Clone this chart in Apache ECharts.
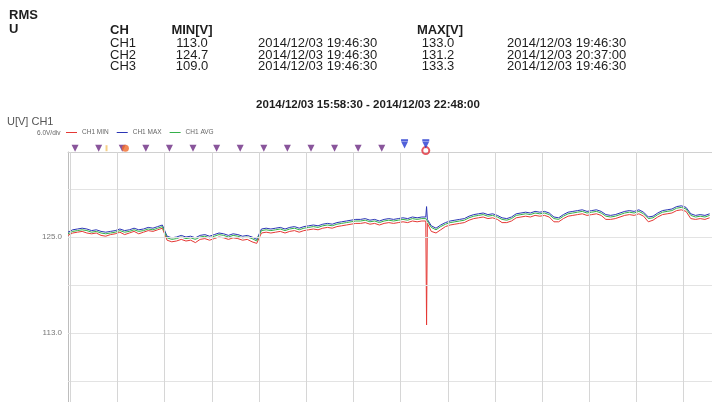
<!DOCTYPE html>
<html>
<head>
<meta charset="utf-8">
<script src="https://cdn.jsdelivr.net/npm/echarts@6/dist/echarts.min.js"></script>
<style>html,body{margin:0;padding:0;background:#fff}#c{width:712px;height:402px}</style>
</head>
<body>
<div id="c"></div>
<script>
// ---- data ----
const channels = ['CH1', 'CH2', 'CH3'];
const minVals = ['113.0', '124.7', '109.0'];
const minTimes = ['2014/12/03 19:46:30', '2014/12/03 19:46:30', '2014/12/03 19:46:30'];
const maxVals = ['133.0', '131.2', '133.3'];
const maxTimes = ['2014/12/03 19:46:30', '2014/12/03 20:37:00', '2014/12/03 19:46:30'];
const rangeText = '2014/12/03 15:58:30 - 2014/12/03 22:48:00';
const axisStart = '2014-12-03 15:58:30';
const axisEnd = '2014-12-03 22:48:00';
const sampleStart = '2014-12-03 15:58:30';
const sampleStepMin = 3;

const avgVals = [
125.4,125.7,125.8,125.9,125.8,125.6,125.7,125.5,125.4,125.5,
125.6,125.8,125.6,125.7,125.9,125.7,125.8,126.0,125.9,126.1,
126.3,124.9,124.7,124.8,125.0,124.8,124.9,124.7,125.0,125.1,
124.9,125.1,125.3,125.2,125.0,125.2,125.1,124.9,125.0,124.8,
124.5,125.8,125.9,125.8,125.9,126.0,125.8,126.0,126.1,125.9,
126.1,126.2,126.3,126.2,126.4,126.5,126.4,126.6,126.7,126.8,
126.9,127.0,127.0,127.1,126.9,127.0,126.8,127.0,127.1,127.0,
127.1,127.2,127.1,127.3,127.2,127.3,127.1,126.2,125.9,126.3,
126.6,126.8,126.9,127.0,127.1,127.4,127.6,127.7,127.8,127.6,
127.7,127.5,127.2,127.1,127.3,127.7,127.8,127.9,127.8,128.0,
127.9,128.0,127.8,127.3,127.2,127.6,127.9,128.0,128.1,128.2,
128.0,128.1,128.2,128.0,127.6,127.5,127.6,127.8,128.0,128.1,
128.0,128.2,127.9,127.3,127.4,127.8,128.1,128.2,128.3,128.6,
128.7,128.5,127.7,127.5,127.6,127.5,127.7
];
const maxValsSeries = [
125.6,125.9,126.0,126.1,126.0,125.8,125.9,125.7,125.6,125.7,
125.8,126.0,125.8,125.9,126.1,125.9,126.0,126.2,126.1,126.3,
126.5,125.1,124.9,125.0,125.2,125.0,125.1,124.9,125.2,125.3,
125.1,125.3,125.5,125.4,125.2,125.4,125.3,125.1,125.2,125.0,
124.7,126.0,126.1,126.0,126.1,126.2,126.0,126.2,126.3,126.1,
126.3,126.4,126.5,126.4,126.6,126.7,126.6,126.8,126.9,127.0,
127.1,127.2,127.2,127.3,127.1,127.2,127.0,127.2,127.3,127.2,
127.3,127.4,127.3,127.5,127.4,127.5,128.8,126.4,126.1,126.5,
126.8,127.0,127.1,127.2,127.3,127.6,127.8,127.9,128.0,127.8,
127.9,127.7,127.4,127.3,127.5,127.9,128.0,128.1,128.0,128.2,
128.1,128.2,128.0,127.5,127.4,127.8,128.1,128.2,128.3,128.4,
128.2,128.3,128.4,128.2,127.8,127.7,127.8,128.0,128.2,128.3,
128.2,128.4,128.1,127.5,127.6,128.0,128.3,128.4,128.5,128.8,
128.9,128.7,127.9,127.7,127.8,127.7,127.9
];
const minValsSeries = [
125.2,125.5,125.6,125.7,125.5,125.4,125.5,125.2,125.1,125.3,
125.4,125.6,125.3,125.5,125.7,125.4,125.6,125.8,125.7,125.9,
126.1,124.6,124.4,124.5,124.7,124.5,124.6,124.3,124.7,124.8,
124.6,124.8,125.0,124.9,124.7,124.9,124.8,124.6,124.7,124.4,
124.2,125.5,125.6,125.5,125.6,125.7,125.5,125.7,125.8,125.6,
125.8,125.9,126.0,125.9,126.1,126.2,126.1,126.3,126.4,126.5,
126.6,126.7,126.7,126.8,126.6,126.7,126.5,126.7,126.8,126.7,
126.8,126.9,126.8,127.0,126.9,127.0,114.0,125.7,125.5,125.9,
126.3,126.5,126.6,126.7,126.8,127.1,127.3,127.4,127.5,127.3,
127.4,127.2,126.8,126.8,127.0,127.4,127.5,127.6,127.5,127.7,
127.6,127.7,127.5,126.9,126.9,127.3,127.6,127.7,127.8,127.9,
127.7,127.8,127.9,127.7,127.2,127.2,127.3,127.5,127.7,127.8,
127.7,127.9,127.6,126.9,127.1,127.5,127.8,127.9,128.0,128.3,
128.4,128.2,127.3,127.2,127.3,127.2,127.4
];
// extra samples around the 19:46:30 event
const extraTimes = ['2014-12-03 19:46:00', '2014-12-03 19:47:00'];
const extraAvg = [127.3, 127.0];
const extraMax = [127.5, 127.2];
const extraMin = [127.0, 126.7];

const gridVals = [107, 113, 119, 125, 131];
const labelVals = [113, 125];
const vGridTimes = ['16:00','16:30','17:00','17:30','18:00','18:30','19:00','19:30',
  '20:00','20:30','21:00','21:30','22:00','22:30'];
const eventTimes = ['2014-12-03 16:03:00','2014-12-03 16:18:00','2014-12-03 16:33:00','2014-12-03 16:48:00',
  '2014-12-03 17:03:00','2014-12-03 17:18:00','2014-12-03 17:33:00','2014-12-03 17:48:00',
  '2014-12-03 18:03:00','2014-12-03 18:18:00','2014-12-03 18:33:00','2014-12-03 18:48:00',
  '2014-12-03 19:03:00','2014-12-03 19:18:00'];
const yellowEvents = ['2014-12-03 16:23:00'];
const orangeEvents = ['2014-12-03 16:35:00'];
const blueEvents = ['2014-12-03 19:32:30', '2014-12-03 19:46:00'];
const redEvents = ['2014-12-03 19:46:00'];

// ---- build ----
function parseT(s) {
  const m = s.match(/(\d+)-(\d+)-(\d+) (\d+):(\d+):(\d+)/);
  return new Date(+m[1], +m[2]-1, +m[3], +m[4], +m[5], +m[6]).getTime();
}
const t0 = parseT(sampleStart);
const toPts = (arr, extra) => arr.map((v, i) => [t0 + i * sampleStepMin * 60000, v])
  .concat(extraTimes.map((t, i) => [parseT(t), extra[i]]))
  .sort((a, b) => a[0] - b[0]);
const markerY = 136.1;
const font = 'Liberation Sans, Arial, sans-serif';

const graphic = [];
function txt(x, y, text, opts) {
  graphic.push({type: 'text', x: x, y: y, silent: true, style: Object.assign({
    text: text, font: '13px ' + font, fill: '#1e1e1e', align: 'left', verticalAlign: 'middle'}, opts || {})});
}
txt(9, 15, 'RMS', {font: 'bold 13px ' + font});
txt(9, 29, 'U', {font: 'bold 13px ' + font});
txt(110, 30, 'CH', {font: 'bold 13px ' + font});
txt(192, 30, 'MIN[V]', {font: 'bold 13px ' + font, align: 'center'});
txt(440, 30, 'MAX[V]', {font: 'bold 13px ' + font, align: 'center'});
channels.forEach((c, i) => {
  const y = 43.5 + i * 11.5;
  txt(110, y, c);
  txt(192, y, minVals[i], {align: 'center'});
  txt(258, y, minTimes[i]);
  txt(438, y, maxVals[i], {align: 'center'});
  txt(507, y, maxTimes[i]);
});
txt(368, 105, rangeText, {font: 'bold 11.5px ' + font, align: 'center'});
txt(7, 122, 'U[V] CH1', {font: '11px ' + font, fill: '#555'});
txt(37, 133, '6.0V/div', {font: '6.5px ' + font, fill: '#666'});

const chart = echarts.init(document.getElementById('c'));
chart.setOption({
  animation: false,
  backgroundColor: '#fff',
  graphic: graphic,
  legend: {
    data: ['CH1 MIN', 'CH1 MAX', 'CH1 AVG'],
    left: 66, top: 129, icon: 'rect', itemWidth: 11, itemHeight: 1, itemGap: 8,
    textStyle: {fontSize: 6.5, color: '#666', fontFamily: font}, padding: 0
  },
  grid: {left: 68, right: -5, top: 152, bottom: 0},
  xAxis: {
    type: 'time', position: 'top', min: parseT(axisStart), max: parseT(axisEnd),
    axisLine: {show: true, lineStyle: {color: '#d0d0d0'}},
    axisTick: {show: false}, axisLabel: {show: false},
    splitLine: {show: false}
  },
  yAxis: {
    type: 'value', min: 104.375, max: 135.625,
    axisLine: {show: true, lineStyle: {color: '#bdbdbd'}},
    axisTick: {show: false}, axisLabel: {show: false}, splitLine: {show: false}
  },
  series: [
    {name: 'grid', type: 'line', data: [], silent: true,
      markLine: {silent: true, symbol: 'none', animation: false,
        lineStyle: {color: '#e3e3e3', type: 'solid', width: 1},
        data: gridVals.map(v => ({yAxis: v, label: {show: labelVals.indexOf(v) >= 0,
          position: 'start', distance: 6, formatter: v.toFixed(1), fontSize: 8, color: '#777', fontFamily: font}}))
          .concat(vGridTimes.map(t => ({xAxis: parseT('2014-12-03 ' + t + ':00'), label: {show: false},
            lineStyle: {color: '#d6d6d6'}})))}},
    {name: 'CH1 MIN', type: 'line', data: toPts(minValsSeries, extraMin), showSymbol: false, color: '#e53935',
      lineStyle: {width: 1}},
    {name: 'CH1 MAX', type: 'line', data: toPts(maxValsSeries, extraMax), showSymbol: false, color: '#2b35b5',
      lineStyle: {width: 1}},
    {name: 'CH1 AVG', type: 'line', data: toPts(avgVals, extraAvg), showSymbol: false, color: '#35b04a',
      lineStyle: {width: 1}},
    {name: 'ev', type: 'scatter', clip: false, silent: true, symbol: 'triangle', symbolRotate: 180,
      symbolSize: 7, itemStyle: {color: '#6c2a82'}, data: eventTimes.map(t => [parseT(t), markerY]), z: 5},
    {name: 'evY', type: 'scatter', clip: false, silent: true, symbol: 'rect', symbolSize: [2, 6],
      itemStyle: {color: '#f2c46a'}, data: yellowEvents.map(t => [parseT(t), markerY]), z: 5},
    {name: 'evO', type: 'scatter', clip: false, silent: true, symbol: 'circle', symbolSize: 7,
      itemStyle: {color: '#f06a2a'}, data: orangeEvents.map(t => [parseT(t), markerY]), z: 5},
    {name: 'evR', type: 'scatter', clip: false, silent: true, symbol: 'circle', symbolSize: 7,
      itemStyle: {color: 'transparent', borderColor: '#e0303a', borderWidth: 2}, data: redEvents.map(t => [parseT(t), 135.8]), z: 5},
    {name: 'evB', type: 'scatter', clip: false, silent: true, symbol: 'triangle', symbolRotate: 180,
      symbolSize: 7, itemStyle: {color: '#2438d0'}, data: blueEvents.map(t => [parseT(t), 136.5]), z: 6},
    {name: 'evBbar', type: 'scatter', clip: false, silent: true, symbol: 'rect', symbolSize: [7, 2],
      itemStyle: {color: '#2438d0'}, data: blueEvents.map(t => [parseT(t), 137.1]), z: 6}
  ]
});
</script>
</body>
</html>
